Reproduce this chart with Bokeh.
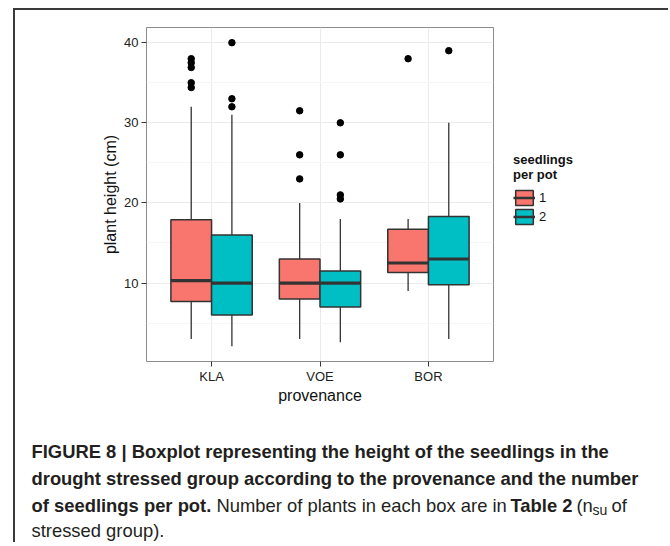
from bokeh.plotting import figure
from bokeh.layouts import row, column
from bokeh.models import (Range1d, FixedTicker, Legend, LegendItem, Label,
                          ColumnDataSource, Spacer)
from bokeh.embed import file_html
from bokeh.resources import INLINE

# ---------------- data ----------------
provenance = ["KLA", "VOE", "BOR"]
seedlings = ["1", "2"]

grp_prov = ["KLA", "KLA", "VOE", "VOE", "BOR", "BOR"]
grp_seed = ["1", "2", "1", "2", "1", "2"]
lower_whisker = [3.0, 2.1, 3.0, 2.6, 9.0, 3.0]
q1 = [7.7, 6.0, 8.0, 7.0, 11.3, 9.8]
median = [10.3, 10.0, 10.0, 10.0, 12.5, 13.0]
q3 = [17.9, 16.0, 13.0, 11.5, 16.7, 18.3]
upper_whisker = [32.0, 31.0, 20.0, 18.0, 18.0, 30.0]

out_prov = ["KLA"] * 5 + ["KLA"] * 3 + ["VOE"] * 3 + ["VOE"] * 4 + ["BOR", "BOR"]
out_seed = ["1"] * 5 + ["2"] * 3 + ["1"] * 3 + ["2"] * 4 + ["1", "2"]
out_val = [38.0, 37.5, 36.9, 35.0, 34.4,
           40.0, 33.0, 32.0,
           31.5, 26.0, 23.0,
           30.0, 26.0, 21.0, 20.5,
           38.0, 39.0]

yticks = [10, 20, 30, 40]
yminor = [5, 15, 25, 35]

legend_title = "seedlings\nper pot"
x_title = "provenance"
y_title = "plant height (cm)"

colors = {"1": "#F8766D", "2": "#00BFC4"}
dodge = {"1": -0.1875, "2": 0.1875}
box_w = 0.375
EDGE = "#333333"
FRAME = "#3a3a3a"

# ---------------- chart figure ----------------
all_vals = lower_whisker + upper_whisker + out_val
lo, hi = min(all_vals), max(all_vals)
pad = 0.05 * (hi - lo)

CW, CH = 490, 400
p = figure(width=CW, height=CH,
           x_range=Range1d(0.4, len(provenance) + 0.6),
           y_range=Range1d(lo - pad, hi + pad),
           output_backend="svg", toolbar_location=None,
           min_border_left=131, min_border_right=CW - 478,
           min_border_top=17, min_border_bottom=CH - 351)
p.background_fill_color = "white"
p.border_fill_color = "white"
p.outline_line_color = "#8c8c8c"
p.outline_line_width = 1

xt = list(range(1, len(provenance) + 1))
p.xaxis.ticker = FixedTicker(ticks=xt)
p.xaxis.major_label_overrides = {i + 1: c for i, c in enumerate(provenance)}
p.yaxis.ticker = FixedTicker(ticks=yticks, minor_ticks=yminor)
p.xgrid.ticker = FixedTicker(ticks=xt)
p.ygrid.ticker = FixedTicker(ticks=yticks, minor_ticks=yminor)
for g in (p.xgrid, p.ygrid):
    g.grid_line_color = "#EBEBEB"
    g.grid_line_width = 1
p.ygrid.minor_grid_line_color = "#F6F6F6"
p.ygrid.minor_grid_line_width = 1

for ax in (p.xaxis, p.yaxis):
    ax.axis_line_color = None
    ax.major_tick_line_color = EDGE
    ax.major_tick_out = 5
    ax.major_tick_in = 0
    ax.minor_tick_line_color = None
    ax.major_label_text_font = "Liberation Sans"
    ax.major_label_text_font_size = "13px"
    ax.major_label_text_color = "#222222"
    ax.axis_label_text_font = "Liberation Sans"
    ax.axis_label_text_font_size = "16px"
    ax.axis_label_text_font_style = "normal"
    ax.axis_label_text_color = "#111111"
    ax.major_label_standoff = 3

p.xaxis.major_label_standoff = 2
p.xaxis.axis_label = x_title
p.yaxis.axis_label = y_title
p.xaxis.axis_label_standoff = 0
p.yaxis.axis_label_standoff = 2

sources = {}
for s in seedlings:
    idx = [i for i, v in enumerate(grp_seed) if v == s]
    xs = [provenance.index(grp_prov[i]) + 1 + dodge[s] for i in idx]
    src = ColumnDataSource(dict(
        x=xs,
        x0=[x - box_w / 2 for x in xs],
        x1=[x + box_w / 2 for x in xs],
        lw=[lower_whisker[i] for i in idx],
        q1=[q1[i] for i in idx],
        med=[median[i] for i in idx],
        q3=[q3[i] for i in idx],
        uw=[upper_whisker[i] for i in idx],
    ))
    sources[s] = src
    p.segment(x0="x", y0="q3", x1="x", y1="uw", source=src,
              line_color=EDGE, line_width=1.3)
    p.segment(x0="x", y0="q1", x1="x", y1="lw", source=src,
              line_color=EDGE, line_width=1.3)
    p.vbar(x="x", width=box_w, bottom="q1", top="q3", source=src,
           fill_color=colors[s], line_color=EDGE, line_width=1.5)
    p.segment(x0="x0", y0="med", x1="x1", y1="med", source=src,
              line_color=EDGE, line_width=3.2)

oidx = range(len(out_val))
osrc = ColumnDataSource(dict(
    x=[provenance.index(out_prov[i]) + 1 + dodge[out_seed[i]] for i in oidx],
    y=out_val))
p.scatter(x="x", y="y", source=osrc, size=6.5, color="black")

# ---------------- legend figure ----------------
# legend keys come from hidden renderers that share the box sources
LW = 163
lg = figure(width=LW, height=CH, x_range=Range1d(0, 1), y_range=Range1d(0, 1),
            output_backend="svg", toolbar_location=None,
            x_axis_location=None, y_axis_location=None, min_border=0)
lg.outline_line_color = None
lg.background_fill_color = "white"
lg.border_fill_color = "white"
lg.grid.visible = False
items = []
for s in seedlings:
    rb = lg.vbar(x="x", width=box_w, bottom="q1", top="q3", source=sources[s],
                 fill_color=colors[s], line_color=EDGE, line_width=1.5)
    rm = lg.segment(x0="x0", y0="med", x1="x1", y1="med", source=sources[s],
                    line_color=EDGE, line_width=2.5)
    rb.visible = False
    rm.visible = False
    items.append(LegendItem(label=s, renderers=[rb, rm]))
legend = Legend(items=items, title=legend_title, location=(8, 135),
                orientation="vertical", click_policy="none")
legend.title_text_font = "Liberation Sans"
legend.title_text_font_size = "13px"
legend.title_text_font_style = "bold"
legend.title_text_color = "#111111"
legend.label_text_font = "Liberation Sans"
legend.label_text_font_size = "13px"
legend.label_text_color = "#111111"
legend.glyph_width = 22
legend.glyph_height = 19
legend.spacing = 0
legend.padding = 0
legend.margin = 0
legend.label_standoff = 4
legend.title_standoff = 6
legend.border_line_color = None
legend.background_fill_color = None
legend.inactive_fill_alpha = 0
lg.add_layout(legend)

# ---------------- caption figure ----------------
FW, FH = 653, 132
cap = figure(width=FW, height=FH, x_range=Range1d(0, FW), y_range=Range1d(FH, 0),
             output_backend="svg", toolbar_location=None,
             x_axis_location=None, y_axis_location=None, min_border=0)
cap.outline_line_color = None
cap.background_fill_color = "white"
cap.border_fill_color = "white"
cap.grid.visible = False

cap_font = "Liberation Sans"
cap_col = "#231F20"
cs = "18.4px"
caption = [
    # (text, style, x, text-centre y, size)
    ("FIGURE 8 | Boxplot representing the height of the seedlings in the", "bold", 16, 41, cs),
    ("drought stressed group according to the provenance and the number", "bold", 16, 67.5, cs),
    ("of seedlings per pot.", "bold", 16, 94.5, cs),
    ("Number of plants in each box are in", "normal", 201, 94.5, cs),
    ("Table 2", "bold", 495, 94.5, cs),
    ("(n", "normal", 561, 94.5, cs),
    ("su", "normal", 577, 99.5, "14px"),
    ("of", "normal", 596, 94.5, cs),
    ("stressed group).", "normal", 16, 119.5, cs),
]
for txt, style, x, yc, fs in caption:
    cap.add_layout(Label(x=x, y=yc, text=txt, text_font=cap_font,
                         text_font_size=fs, text_font_style=style,
                         text_color=cap_col, text_baseline="middle",
                         text_align="left"))

# ---------------- page frame & layout ----------------
top_line = Spacer(width=655, height=2,
                  styles={"background-color": FRAME, "min-height": "2px",
                          "flex-shrink": "0"})
left_line = Spacer(width=2, height=CH + FH,
                   styles={"background-color": FRAME, "min-width": "2px",
                           "flex-shrink": "0"})
body = column(row(p, lg), cap)
layout = column(Spacer(width=10, height=8),
                row(Spacer(width=13, height=10),
                    column(top_line, row(left_line, body))))

open("out.html", "w").write(file_html(layout, INLINE))
